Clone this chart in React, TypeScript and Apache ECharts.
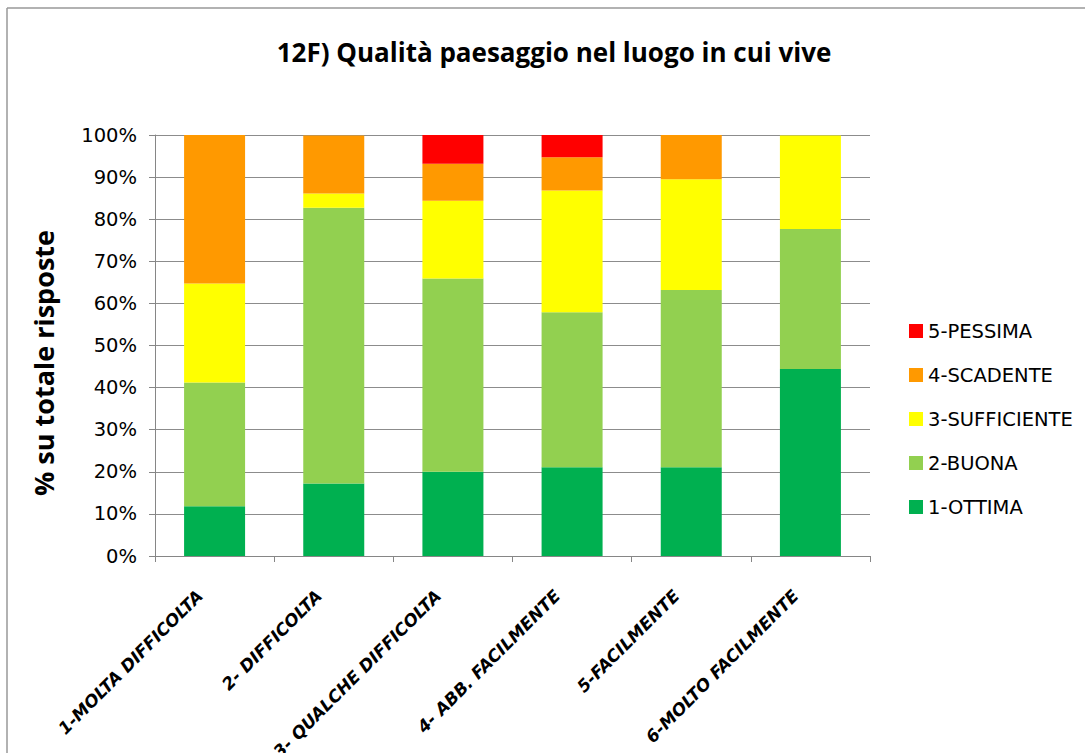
import React, { useEffect, useRef } from "react";
import * as echarts from "echarts";

const categories = [
  "1-MOLTA DIFFICOLTA",
  "2- DIFFICOLTA",
  "3- QUALCHE DIFFICOLTA",
  "4- ABB. FACILMENTE",
  "5-FACILMENTE",
  "6-MOLTO FACILMENTE",
];
const ottima = [11.8, 17.2, 20.0, 21.1, 21.1, 44.4];
const buona = [29.4, 65.5, 45.9, 36.8, 42.1, 33.3];
const sufficiente = [23.5, 3.4, 18.5, 28.9, 26.3, 22.2];
const scadente = [35.3, 13.8, 8.8, 7.9, 10.5, 0];
const pessima = [0, 0, 6.8, 5.3, 0, 0];

const seriesNames = ["1-OTTIMA", "2-BUONA", "3-SUFFICIENTE", "4-SCADENTE", "5-PESSIMA"];
const seriesColors = ["#00B050", "#92D050", "#FFFF00", "#FF9900", "#FF0000"];
const seriesData = [ottima, buona, sufficiente, scadente, pessima];
const legendOrder = ["5-PESSIMA", "4-SCADENTE", "3-SUFFICIENTE", "2-BUONA", "1-OTTIMA"];

const titleText = "12F) Qualità paesaggio nel luogo in cui vive";
const yName = "% su totale risposte";

const FONT = "'Open Sans', 'Liberation Sans', sans-serif";
const WIDE = "'DejaVu Sans', 'Liberation Sans', sans-serif";

export default function App() {
  const ref = useRef<HTMLDivElement>(null);
  useEffect(() => {
    if (!ref.current) return;
    const chart = echarts.init(ref.current, null, { renderer: "svg" });
    chart.setOption({
      animation: false,
      backgroundColor: "#ffffff",
      grid: {
        left: 155,
        right: 215,
        top: 135,
        bottom: 197,
        containLabel: false,
        outerBoundsMode: "none",
      },
      legend: {
        orient: "vertical",
        left: 909,
        top: 321,
        padding: 0,
        data: legendOrder,
        itemWidth: 14,
        itemHeight: 14,
        itemGap: 24,
        icon: "rect",
        textStyle: { fontFamily: WIDE, fontSize: 19.5, color: "#000" },
      },
      xAxis: {
        type: "category",
        data: categories,
        axisLine: { show: true, lineStyle: { color: "#868686", width: 1 } },
        axisTick: { show: true, length: 6, lineStyle: { color: "#868686" } },
        axisLabel: {
          rotate: 45,
          interval: 0,
          margin: 22,
          padding: [0, 21, 0, 0],
          fontFamily: WIDE,
          fontSize: 17,
          fontWeight: "bold",
          fontStyle: "italic",
          color: "#000",
        },
      },
      yAxis: {
        type: "value",
        min: 0,
        max: 100,
        interval: 10,
        axisLine: { show: true, lineStyle: { color: "#868686", width: 1 } },
        axisTick: { show: true, length: 6, lineStyle: { color: "#868686" } },
        splitLine: { show: true, lineStyle: { color: "#8c8c8c", width: 1 } },
        axisLabel: {
          formatter: "{value}%",
          margin: 18,
          fontFamily: WIDE,
          fontSize: 19.5,
          color: "#000",
        },
      },
      series: seriesNames.map((name, i) => ({
        name,
        type: "bar",
        stack: "total",
        barWidth: 61,
        data: seriesData[i],
        itemStyle: { color: seriesColors[i] },
      })),
      graphic: [
        {
          type: "line",
          shape: { x1: 7, y1: 8, x2: 1085, y2: 8 },
          style: { stroke: "#999999", lineWidth: 1.5 },
        },
        {
          type: "line",
          shape: { x1: 7, y1: 8, x2: 7, y2: 753 },
          style: { stroke: "#999999", lineWidth: 1.5 },
        },
        {
          type: "text",
          x: 554,
          y: 52,
          style: {
            text: titleText,
            textAlign: "center",
            textVerticalAlign: "middle",
            fontFamily: FONT,
            fontSize: 26,
            fontWeight: "bold",
            fill: "#000",
          },
        },
        {
          type: "text",
          x: 43,
          y: 363,
          rotation: Math.PI / 2,
          style: {
            text: yName,
            textAlign: "center",
            textVerticalAlign: "middle",
            fontFamily: FONT,
            fontSize: 27,
            fontWeight: "bold",
            fill: "#000",
          },
        },
      ],
    });
    return () => chart.dispose();
  }, []);
  return (
    <div
      ref={ref}
      style={{ position: "absolute", left: 0, top: 0, width: 1085, height: 753, background: "#fff" }}
    />
  );
}
